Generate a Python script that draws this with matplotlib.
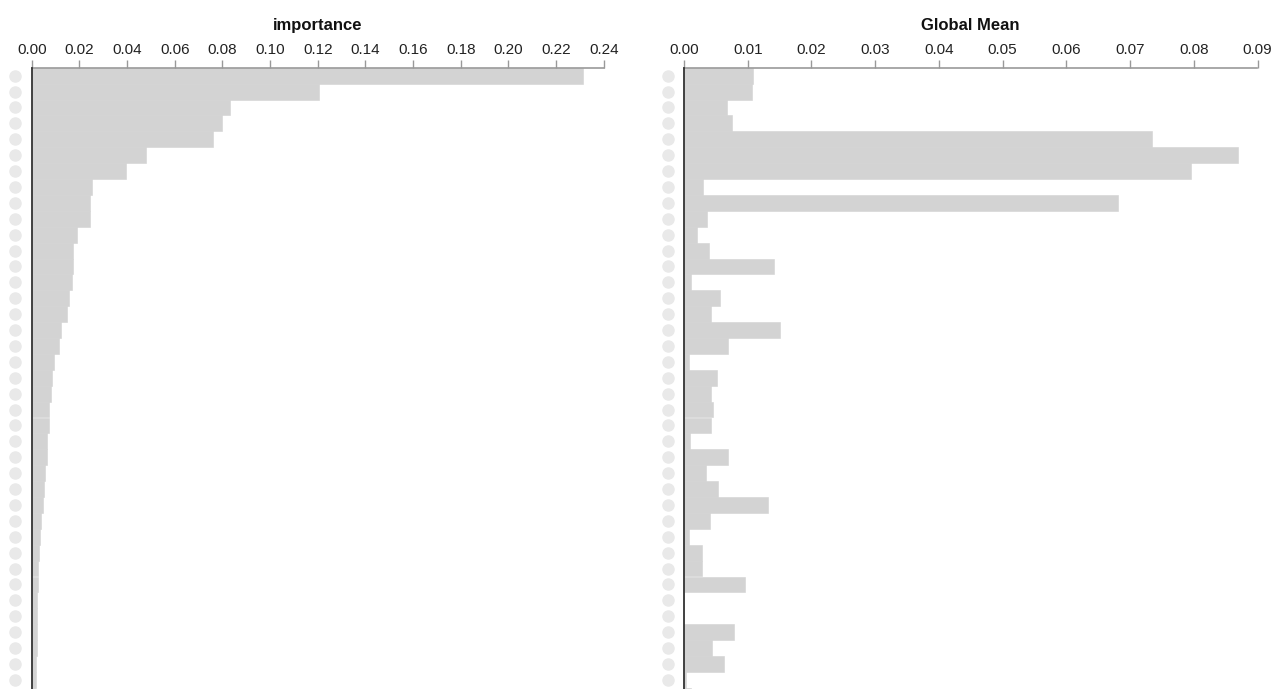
import numpy as np
import matplotlib
matplotlib.use("Agg")
import matplotlib.pyplot as plt
import matplotlib.ticker as mticker
import matplotlib.transforms as mtransforms

plt.rcParams["font.family"] = ["Liberation Sans", "DejaVu Sans"]

# valeurs (une ligne par variable, de haut en bas)
importance = [0.2313, 0.1206, 0.0832, 0.0800, 0.0759, 0.0478, 0.0396, 0.0252,
              0.0245, 0.0245, 0.0190, 0.0172, 0.0172, 0.0168, 0.0155, 0.0147,
              0.0122, 0.0113, 0.0092, 0.0084, 0.0080, 0.0074, 0.0071, 0.0066,
              0.0063, 0.0054, 0.0050, 0.0046, 0.0038, 0.0034, 0.0031, 0.0026,
              0.0026, 0.0024, 0.0024, 0.0024, 0.0021, 0.0017, 0.0017, 0.0015]

global_mean = [0.0108, 0.0106, 0.0067, 0.0075, 0.0734, 0.0870, 0.0795, 0.0030,
               0.0681, 0.0036, 0.0020, 0.0039, 0.0141, 0.0011, 0.0057, 0.0042,
               0.0151, 0.0069, 0.0008, 0.0052, 0.0043, 0.0045, 0.0042, 0.0009,
               0.0069, 0.0035, 0.0053, 0.0132, 0.0041, 0.0008, 0.0029, 0.0028,
               0.0096, 0.0000, 0.0000, 0.0078, 0.0044, 0.0063, 0.0003, 0.0011]

titles = ["importance", "Global Mean"]
x_max = [0.24, 0.09]
x_step = [0.02, 0.01]

W, H = 1274, 689
fig = plt.figure(figsize=(W / 100, H / 100), dpi=100, facecolor="w")

top_px = 67.7
row_px = 15.9
ax_h = (H - top_px) / H
n_rows_visible = (H - top_px) / row_px

panels = [
    (importance, 31.7, 572.0),
    (global_mean, 684.0, 573.5),
]

for i, (values, left_px, width_px) in enumerate(panels):
    ax = fig.add_axes([left_px / W, 0, width_px / W, ax_h])
    y = np.arange(len(values))
    # bordure de la même couleur pour éviter les fentes blanches entre barres
    ax.barh(y, values, height=1.0, color="#d3d3d3", edgecolor="#d3d3d3",
            linewidth=0.4, align="center", zorder=1)

    ax.set_xlim(0, x_max[i])
    ax.set_ylim(-0.5 + n_rows_visible, -0.5)

    # axe du haut seulement
    ax.xaxis.set_ticks_position("top")
    ax.xaxis.set_label_position("top")
    ax.xaxis.set_major_locator(mticker.MultipleLocator(x_step[i]))
    ax.xaxis.set_major_formatter(mticker.FormatStrFormatter("%.2f"))
    ax.tick_params(axis="x", direction="out", length=5.5, width=1,
                   color="#999999", labelsize=11, labelcolor="#222222", pad=2.5)
    ax.set_yticks([])

    ax.spines["right"].set_visible(False)
    ax.spines["bottom"].set_visible(False)
    ax.spines["top"].set_color("#999999")
    ax.spines["top"].set_linewidth(1.2)
    ax.spines["left"].set_color("#333333")
    ax.spines["left"].set_linewidth(1.3)
    ax.spines["left"].set_zorder(3)

    # pastilles grises à la place des libellés
    trans = ax.get_yaxis_transform() + mtransforms.ScaledTranslation(-16.5 / 100, 0, fig.dpi_scale_trans)
    ax.plot(np.zeros(len(values)), y, "o", ms=9, color="#e9e9e9", mec="none",
            transform=trans, clip_on=False)

    ax.annotate(titles[i], xy=(0.5, 1), xycoords="axes fraction",
                xytext=(0, 27), textcoords="offset points",
                ha="center", va="baseline", fontsize=12, fontweight="bold",
                color="#111111")

plt.savefig("out.png", dpi=100)
plt.close()
